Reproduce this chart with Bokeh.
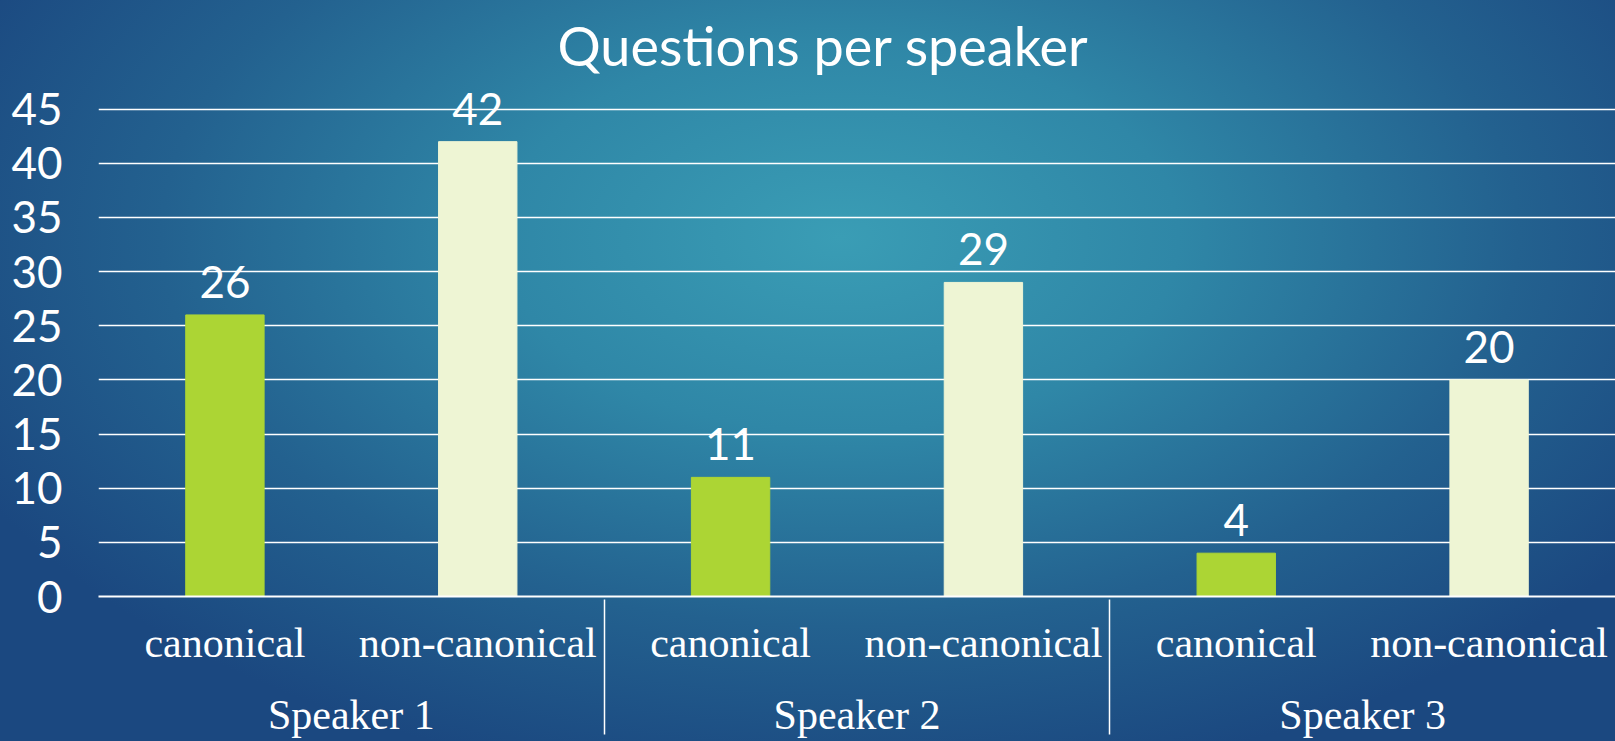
from bokeh.plotting import figure
from bokeh.models import ColumnDataSource, FactorRange, LabelSet, FixedTicker
from bokeh.embed import file_html
from bokeh.resources import INLINE
from bokeh.core.properties import value

speakers = ["Speaker 1", "Speaker 2", "Speaker 3"]
kinds = ["canonical", "non-canonical"]
canonical = [26, 11, 4]
non_canonical = [42, 29, 20]
y_ticks = [0, 5, 10, 15, 20, 25, 30, 35, 40, 45]

factors = []
counts = []
colors = []
for i, s in enumerate(speakers):
    factors.append((s, kinds[0]))
    counts.append(canonical[i])
    colors.append("#acd534")
    factors.append((s, kinds[1]))
    counts.append(non_canonical[i])
    colors.append("#eef5d4")

src = ColumnDataSource(dict(x=factors, top=counts, color=colors,
                            label=[str(c) for c in counts]))

p = figure(x_range=FactorRange(*factors, factor_padding=0, group_padding=0,
                               subgroup_padding=0, range_padding=0),
           y_range=(0, 47),
           width=1615, height=741, output_backend="svg", toolbar_location=None,
           min_border_left=98, min_border_right=0, min_border_top=86,
           min_border_bottom=145, title="Questions per speaker")

p.styles = {"background": "radial-gradient(ellipse 60% 75% at 52% 32%, #3a9db5 0%, #2f87a7 35%, #23618f 70%, #1b4880 100%)"}
p.background_fill_color = None
p.border_fill_color = None
p.outline_line_color = None

p.vbar(x="x", top="top", width=0.31, color="color", source=src)

labels = LabelSet(x="x", y="top", text="label", source=src, y_offset=17,
                  text_align="center", text_baseline="alphabetic",
                  text_color="white", text_font=value("Lato"),
                  text_font_size="44px")
p.add_layout(labels)

p.title.text_font = "Lato"
p.title.text_font_size = "54px"
p.title.text_font_style = "normal"
p.title.text_color = "white"
p.title.align = "left"
p.title.offset = 459
p.title.standoff = 20

p.yaxis.ticker = FixedTicker(ticks=y_ticks)
p.yaxis.axis_line_color = None
p.yaxis.major_tick_line_color = None
p.yaxis.minor_tick_line_color = None
p.yaxis.major_tick_out = 0
p.yaxis.major_label_text_font = "Lato"
p.yaxis.major_label_text_font_size = "44px"
p.yaxis.major_label_text_color = "white"
p.yaxis.major_label_standoff = 36

p.ygrid.ticker = FixedTicker(ticks=y_ticks)
p.ygrid.grid_line_color = "white"
p.ygrid.grid_line_width = 1.5
p.xgrid.grid_line_color = None

xa = p.xaxis[0]
xa.axis_line_color = "white"
xa.axis_line_width = 2
xa.major_tick_line_color = None
xa.minor_tick_line_color = None
xa.major_tick_out = 0
xa.major_label_text_font = "Liberation Serif"
xa.major_label_text_font_size = "42px"
xa.major_label_text_color = "white"
xa.major_label_standoff = 23
xa.group_text_font = "Liberation Serif"
xa.group_text_font_size = "42px"
xa.group_text_font_style = "normal"
xa.group_text_color = "white"
xa.separator_line_color = "white"
xa.separator_line_width = 1.5

open("out.html", "w").write(file_html(p, INLINE))
